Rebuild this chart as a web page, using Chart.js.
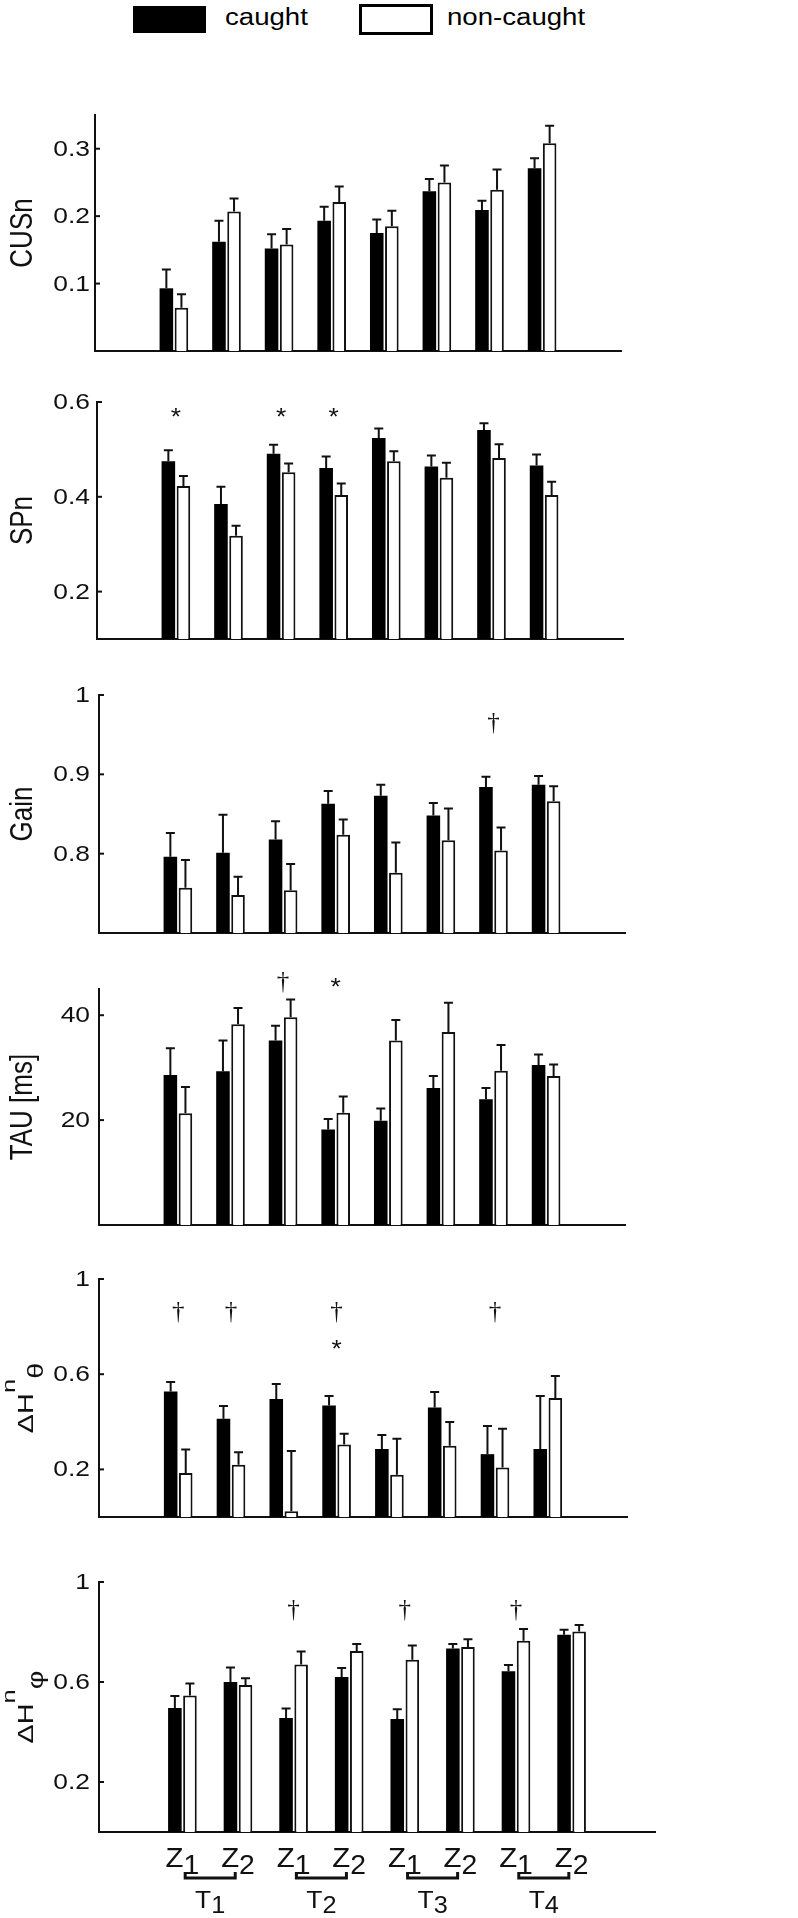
<!DOCTYPE html>
<html>
<head>
<meta charset="utf-8">
<script src="https://cdn.jsdelivr.net/npm/chart.js@4.4.1/dist/chart.umd.min.js"></script>
<style>
  html, body { margin: 0; padding: 0; background: #fff; overflow: hidden; }
  #page { position: relative; width: 798px; height: 1918px; }
  .panel { position: absolute; left: 0; width: 798px; }
  .key { position: absolute; box-sizing: border-box; }
  .keyText { position: absolute; top: 6px; font: 23px 'Liberation Sans', Arial, sans-serif; line-height: 23px;
             transform: scaleX(1.2); transform-origin: 0 0; white-space: nowrap; color: #000; }
</style>
</head>
<body>
<div id="page">
  <div class="key" style="left:133px;top:6px;width:73px;height:27px;background:#000"></div>
  <div class="keyText" style="left:225px">caught</div>
  <div class="key" style="left:359px;top:4px;width:74px;height:31px;border:3px solid #000;background:#fff"></div>
  <div class="keyText" style="left:447px">non-caught</div>
</div>
<script>
// bar pairs: zone Z1 / Z2 of each target T1..T4
const groupPos = [1, 2, 3, 4, 5, 6, 7, 8];
const zoneLabels = ['Z1', 'Z2', 'Z1', 'Z2', 'Z1', 'Z2', 'Z1', 'Z2'];
const targetLabels = ['T1', 'T2', 'T3', 'T4'];

// CUSn
const cusTicks = [0.1, 0.2, 0.3];
const cusCaught = [0.093, 0.162, 0.152, 0.193, 0.175, 0.237, 0.209, 0.271];
const cusCaughtErr = [0.028, 0.031, 0.021, 0.021, 0.020, 0.018, 0.014, 0.015];
const cusNon = [0.064, 0.207, 0.158, 0.221, 0.185, 0.250, 0.239, 0.308];
const cusNonErr = [0.020, 0.019, 0.023, 0.023, 0.023, 0.025, 0.030, 0.026];

// SPn
const spTicks = [0.2, 0.4, 0.6];
const spCaught = [0.475, 0.385, 0.491, 0.461, 0.524, 0.464, 0.541, 0.466];
const spCaughtErr = [0.023, 0.036, 0.019, 0.024, 0.020, 0.023, 0.014, 0.023];
const spNon = [0.423, 0.318, 0.452, 0.404, 0.475, 0.440, 0.482, 0.404];
const spNonErr = [0.021, 0.021, 0.018, 0.024, 0.021, 0.032, 0.029, 0.028];
const spStars = [1, 3, 4];
const spStarLevel = 0.578;

// Gain
const gainTicks = [0.8, 0.9, 1];
const gainCaught = [0.796, 0.801, 0.818, 0.863, 0.873, 0.848, 0.884, 0.887];
const gainCaughtErr = [0.030, 0.048, 0.023, 0.016, 0.014, 0.016, 0.013, 0.011];
const gainNon = [0.757, 0.748, 0.754, 0.824, 0.776, 0.817, 0.804, 0.866];
const gainNonErr = [0.035, 0.023, 0.033, 0.019, 0.038, 0.040, 0.029, 0.019];
const gainDaggers = [7];
const gainDaggerLevel = 0.965;

// TAU [ms]
const tauTicks = [20, 40];
const tauCaught = [28.6, 29.3, 35.2, 18.2, 19.9, 26.1, 24.0, 30.5];
const tauCaughtErr = [5.1, 5.9, 2.8, 2.0, 2.3, 2.3, 2.1, 2.0];
const tauNon = [21.3, 38.3, 39.6, 21.4, 35.2, 36.8, 29.4, 28.4];
const tauNonErr = [5.0, 3.1, 3.4, 3.1, 3.9, 5.6, 4.9, 2.2];
const tauDaggers = [3];
const tauStars = [4];
const tauMarkLevel = 46.4;

// delta H theta
const thetaTicks = [0.2, 0.6, 1];
const thetaCaught = [0.527, 0.413, 0.496, 0.468, 0.286, 0.460, 0.264, 0.286];
const thetaCaughtErr = [0.040, 0.053, 0.063, 0.040, 0.059, 0.065, 0.118, 0.222];
const thetaNon = [0.185, 0.220, 0.024, 0.305, 0.178, 0.299, 0.208, 0.500];
const thetaNonErr = [0.099, 0.052, 0.253, 0.045, 0.151, 0.100, 0.163, 0.092];
const thetaDaggers = [1, 2, 4, 7];
const thetaDaggerLevel = 0.861;
const thetaStars = [4];
const thetaStarLevel = 0.728;

// delta H phi
const phiTicks = [0.2, 0.6, 1];
const phiCaught = [0.496, 0.600, 0.456, 0.620, 0.452, 0.734, 0.643, 0.789];
const phiCaughtErr = [0.048, 0.058, 0.038, 0.036, 0.039, 0.018, 0.025, 0.020];
const phiNon = [0.546, 0.588, 0.670, 0.724, 0.689, 0.740, 0.765, 0.802];
const phiNonErr = [0.048, 0.027, 0.052, 0.028, 0.057, 0.031, 0.047, 0.026];
const phiDaggers = [3, 5, 7];
const phiDaggerLevel = 0.887;

const SANS = "'Liberation Sans', Arial, sans-serif";
const SERIF = "'Liberation Serif', 'Times New Roman', serif";

function deltaTitle(sym) {
  return [
    { t: '\u0394', f: 18, dy: 0 },
    { t: 'H', f: 18, dy: 0 },
    { t: 'n', f: 16, dy: -15 },
    { t: sym, f: 18, dy: 8 }
  ];
}

// box = plot area [left, top, right, bottom] in page pixels
const panels = [
  { title: [{ t: 'CUSn', f: 26, dy: 0 }], min: 0, max: 0.35, ticks: cusTicks,
    caught: cusCaught, caughtErr: cusCaughtErr, non: cusNon, nonErr: cusNonErr,
    marks: [], box: [95, 115, 621, 351] },
  { title: [{ t: 'SPn', f: 26, dy: 0 }], min: 0.1, max: 0.6, ticks: spTicks,
    caught: spCaught, caughtErr: spCaughtErr, non: spNon, nonErr: spNonErr,
    marks: [{ groups: spStars, level: spStarLevel, sym: '*' }], box: [97, 402, 623, 639] },
  { title: [{ t: 'Gain', f: 26, dy: 0 }], min: 0.7, max: 1, ticks: gainTicks,
    caught: gainCaught, caughtErr: gainCaughtErr, non: gainNon, nonErr: gainNonErr,
    marks: [{ groups: gainDaggers, level: gainDaggerLevel, sym: '\u2020' }], box: [99, 695, 625, 933] },
  { title: [{ t: 'TAU [ms]', f: 26, dy: 0 }], min: 0, max: 45, ticks: tauTicks,
    caught: tauCaught, caughtErr: tauCaughtErr, non: tauNon, nonErr: tauNonErr,
    marks: [{ groups: tauDaggers, level: tauMarkLevel, sym: '\u2020' },
            { groups: tauStars, level: tauMarkLevel, sym: '*' }], box: [99, 989, 625, 1225] },
  { title: deltaTitle('\u03b8'), along: 1.6, min: 0, max: 1, ticks: thetaTicks,
    caught: thetaCaught, caughtErr: thetaCaughtErr, non: thetaNon, nonErr: thetaNonErr,
    marks: [{ groups: thetaDaggers, level: thetaDaggerLevel, sym: '\u2020' },
            { groups: thetaStars, level: thetaStarLevel, sym: '*' }], box: [99, 1279, 627, 1517] },
  { title: deltaTitle('\u03c6'), along: 1.6, min: 0, max: 1, ticks: phiTicks,
    caught: phiCaught, caughtErr: phiCaughtErr, non: phiNon, nonErr: phiNonErr,
    marks: [{ groups: phiDaggers, level: phiDaggerLevel, sym: '\u2020' }], box: [99, 1582, 655, 1832],
    last: true }
];

// text stretched sideways like the original figure
function wideText(ctx, txt, x, y, font, align, sx) {
  ctx.save();
  ctx.translate(x, y);
  ctx.scale(sx, 1);
  ctx.font = font;
  ctx.textAlign = align;
  ctx.fillText(txt, 0, 0);
  ctx.restore();
}

// letter with a subscript, centred on cx
function subLabel(ctx, main, sub, cx, base, f1, f2, dy, sx) {
  ctx.save();
  ctx.translate(cx, base);
  ctx.scale(sx, 1);
  ctx.textAlign = 'left';
  ctx.textBaseline = 'alphabetic';
  ctx.font = f1 + 'px ' + SANS;
  const w1 = ctx.measureText(main).width;
  ctx.font = f2 + 'px ' + SANS;
  const w2 = ctx.measureText(sub).width;
  const x0 = -(w1 + w2) / 2;
  ctx.font = f1 + 'px ' + SANS;
  ctx.fillText(main, x0, 0);
  ctx.font = f2 + 'px ' + SANS;
  ctx.fillText(sub, x0 + w1, dy);
  ctx.restore();
}

function decor(p) {
  return {
    id: 'decor',
    afterDatasetsDraw(chart) {
      const ctx = chart.ctx;
      const y = chart.scales.y;
      const errs = [p.caughtErr, p.nonErr];
      ctx.save();
      ctx.strokeStyle = '#111';
      ctx.lineWidth = 2;
      [0, 1].forEach(d => {
        const values = chart.data.datasets[d].data;
        chart.getDatasetMeta(d).data.forEach((bar, i) => {
          const yTop = y.getPixelForValue(values[i] + errs[d][i]);
          ctx.beginPath();
          ctx.moveTo(bar.x, bar.y);
          ctx.lineTo(bar.x, yTop);
          ctx.moveTo(bar.x - 4.5, yTop);
          ctx.lineTo(bar.x + 4.5, yTop);
          ctx.stroke();
        });
      });
      ctx.restore();
    },
    afterDraw(chart) {
      const ctx = chart.ctx;
      const x = chart.scales.x;
      const y = chart.scales.y;
      const area = chart.chartArea;
      ctx.save();
      ctx.fillStyle = '#111';
      ctx.strokeStyle = '#111';

      // inward tick marks and their labels
      ctx.lineWidth = 2;
      p.ticks.forEach(v => {
        const py = y.getPixelForValue(v);
        ctx.beginPath();
        ctx.moveTo(area.left, py);
        ctx.lineTo(area.left + 5, py);
        ctx.stroke();
        ctx.textBaseline = 'middle';
        wideText(ctx, String(v), 90, py + 1, '22px ' + SANS, 'right', 1.2);
      });

      // axis title, rotated
      const cy = (area.top + area.bottom) / 2;
      const along = p.along || 1;
      ctx.save();
      ctx.translate(p.along ? 33 : 32, cy);
      ctx.scale(1.2, 1);
      ctx.rotate(-Math.PI / 2);
      ctx.scale(along, 1);
      ctx.textAlign = 'left';
      ctx.textBaseline = 'alphabetic';
      let total = 0;
      p.title.forEach(part => {
        ctx.font = part.f + 'px ' + SANS;
        total += ctx.measureText(part.t).width;
      });
      let tx = -total / 2;
      p.title.forEach(part => {
        ctx.font = part.f + 'px ' + SANS;
        ctx.fillText(part.t, tx, part.dy);
        tx += ctx.measureText(part.t).width;
      });
      ctx.restore();

      // significance marks
      p.marks.forEach(m => {
        const py = y.getPixelForValue(m.level);
        m.groups.forEach(g => {
          const px = x.getPixelForValue(groupPos[g - 1]);
          ctx.textBaseline = 'alphabetic';
          if (m.sym === '*') {
            wideText(ctx, '*', px, py + 13, '24px ' + SANS, 'center', 1.1);
          } else {
            wideText(ctx, m.sym, px, py + 7, '25px ' + SERIF, 'center', 1.0);
          }
        });
      });

      // zone / target labels under the last panel
      if (p.last) {
        const base = area.bottom;
        zoneLabels.forEach((z, i) => {
          subLabel(ctx, z[0], z.slice(1), x.getPixelForValue(groupPos[i]), base + 35, 28, 27, 7, 1.05);
        });
        ctx.lineWidth = 3;
        targetLabels.forEach((t, j) => {
          const mid = (groupPos[2 * j] + groupPos[2 * j + 1]) / 2;
          const a = x.getPixelForValue(mid - 0.45);
          const b = x.getPixelForValue(mid + 0.45);
          ctx.beginPath();
          ctx.moveTo(a, base + 40);
          ctx.lineTo(a, base + 46);
          ctx.lineTo(b, base + 46);
          ctx.lineTo(b, base + 40);
          ctx.stroke();
          subLabel(ctx, t[0], t.slice(1), x.getPixelForValue(mid), base + 76, 24, 23, 5, 1.1);
        });
      }
      ctx.restore();
    }
  };
}

const page = document.getElementById('page');

panels.forEach(p => {
  const [left, top, right, bottom] = p.box;
  const canvasTop = top - 60;
  const canvasBottom = p.last ? 1918 : bottom + 12;

  const div = document.createElement('div');
  div.className = 'panel';
  div.style.top = canvasTop + 'px';
  div.style.height = (canvasBottom - canvasTop) + 'px';
  const canvas = document.createElement('canvas');
  div.appendChild(canvas);
  page.appendChild(div);

  const unit = (right - left) / 9;
  const catPct = 33.5 / unit;

  new Chart(canvas, {
    type: 'bar',
    data: {
      labels: groupPos,
      datasets: [
        { label: 'caught', data: p.caught, backgroundColor: '#000', borderWidth: 0 },
        { label: 'non-caught', data: p.non, backgroundColor: '#fff', borderColor: '#111', borderWidth: 2 }
      ]
    },
    options: {
      responsive: true,
      maintainAspectRatio: false,
      animation: false,
      categoryPercentage: catPct,
      barPercentage: 0.9,
      layout: {
        padding: { left: left, right: 798 - right, top: top - canvasTop, bottom: canvasBottom - bottom }
      },
      plugins: {
        legend: { display: false },
        tooltip: { enabled: false }
      },
      scales: {
        x: {
          type: 'linear',
          min: 0,
          max: 9,
          z: 1,
          ticks: { display: false },
          grid: { display: false, drawTicks: false },
          border: { display: true, color: '#111', width: 2 }
        },
        y: {
          min: p.min,
          max: p.max,
          ticks: { display: false },
          grid: { display: false, drawTicks: false },
          border: { display: true, color: '#111', width: 2 }
        }
      }
    },
    plugins: [decor(p)]
  });
});
</script>
</body>
</html>
